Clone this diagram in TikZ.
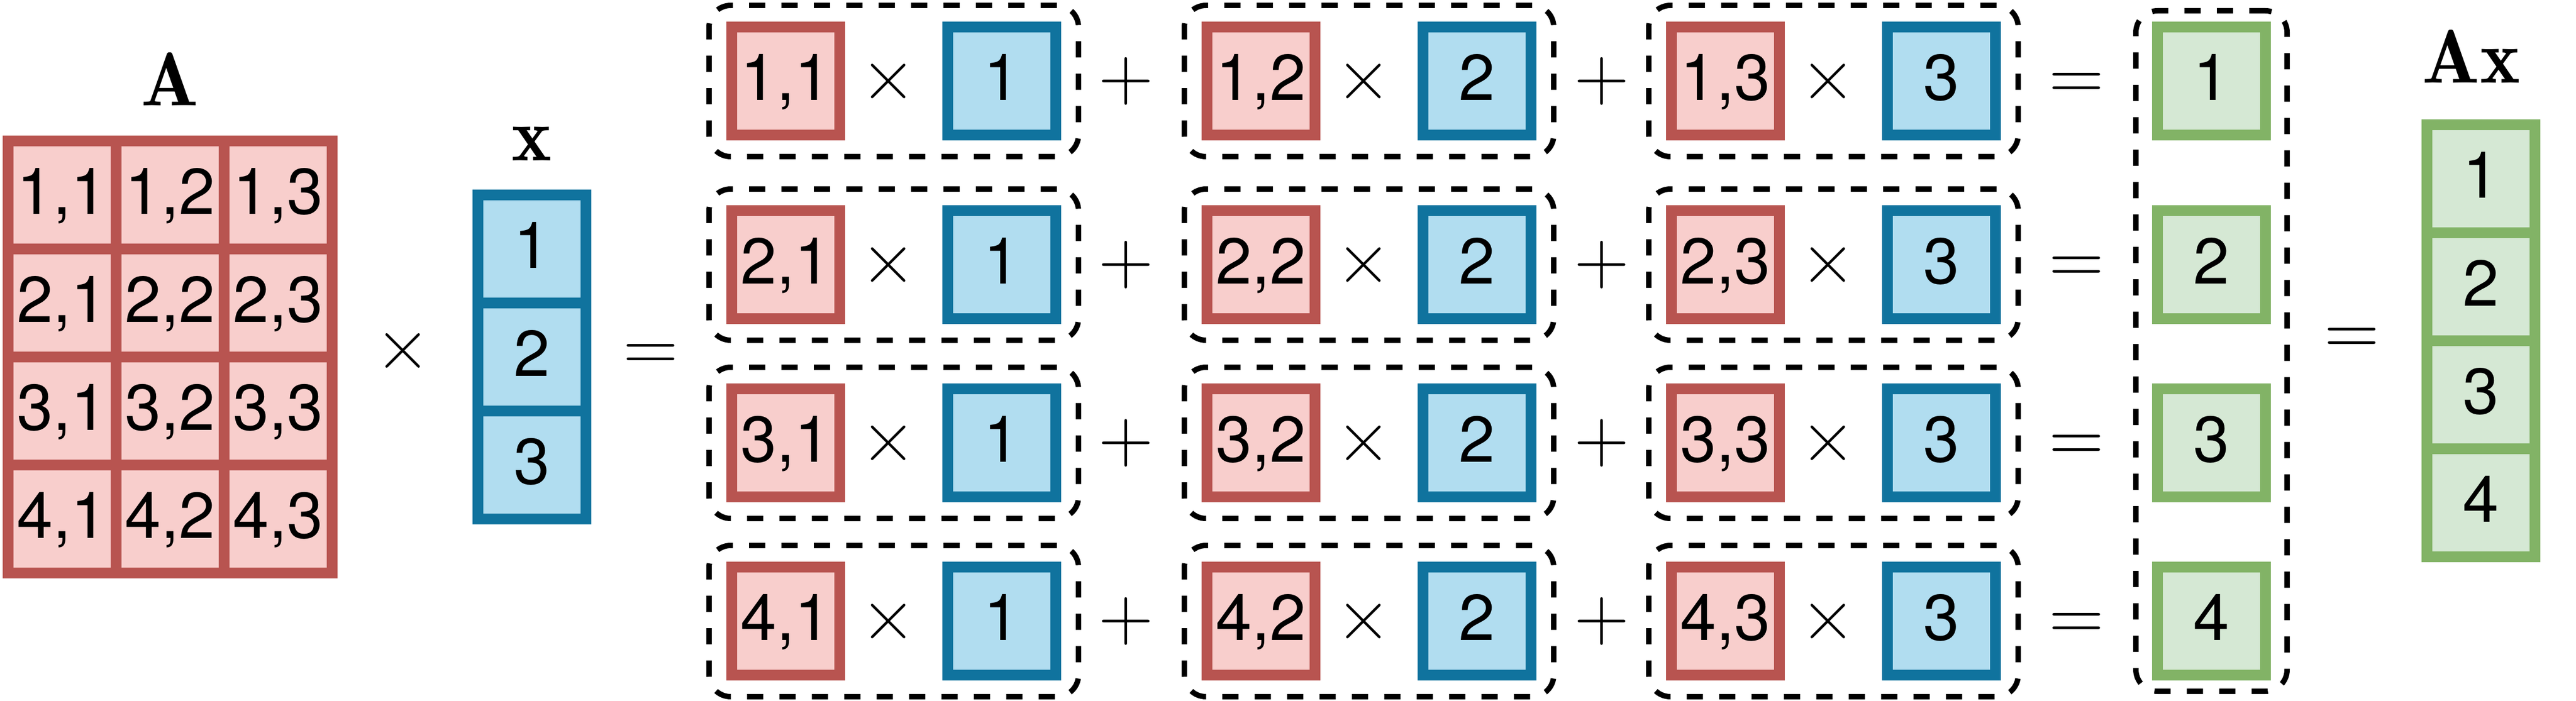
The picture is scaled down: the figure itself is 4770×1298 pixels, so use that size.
\documentclass[tikz,border=0pt]{standalone}
\usepackage{fontspec}
\setsansfont{TeX Gyre Heros}
\usepackage{amsmath}
\usetikzlibrary{positioning,fit}

\definecolor{redStroke}{HTML}{B85450}
\definecolor{redFill}{HTML}{F8CECC}
\definecolor{blueStroke}{HTML}{10739E}
\definecolor{blueFill}{HTML}{B1DDF0}
\definecolor{greenStroke}{HTML}{82B366}
\definecolor{greenFill}{HTML}{D5E8D4}

\begin{document}
\begin{tikzpicture}
  [x=0.1mm,y=-0.1mm,
   cellN/.style={draw,line width=2mm,minimum size=20mm,inner sep=0pt,
     text height=8.5mm,text depth=1.4mm,
     font=\sffamily\fontsize{34.14}{40}\selectfont},
   redN/.style={cellN,draw=redStroke,fill=redFill},
   blueN/.style={cellN,draw=blueStroke,fill=blueFill},
   greenN/.style={cellN,draw=greenStroke,fill=greenFill},
   groupN/.style={draw,line width=1mm,dash pattern=on 3mm off 3mm,
     rounded corners=4mm,inner xsep=3.2mm,inner ysep=3mm},
   opN/.style={inner sep=0pt,font=\rmfamily\fontsize{40}{48}\selectfont,
     text height=30pt,text depth=10pt},
   nameN/.style={inner sep=0pt,font=\fontsize{40}{48}\selectfont}]

  \useasboundingbox (0,0) rectangle (4770,1298);

  % matrix A
  \foreach \r/\y in {1/361,2/561,3/761,4/961}
    \foreach \c/\x in {1/115,2/315,3/515}
      \node[redN] (A\r\c) at (\x,\y) {\r,\c};
  \node[nameN] (nameA) [above=5.5mm of A12.north] {$\mathbf{A}$};

  \node[opN] (times0) at (746,649) {×};

  % vector x
  \foreach \r/\y in {1/461,2/661,3/861}
    \node[blueN] (x\r) at (985,\y) {\r};
  \node[nameN] (namex) [above=5.3mm of x1.north] {$\mathbf{x}$};

  \node[opN] (eq0) at (1205,652) {=};

  % rows of products
  \foreach \r/\y in {1/150,2/490,3/820,4/1150} {
    \foreach \c/\xa/\xt/\xb in {1/1455/1645/1855,2/2335/2525/2735,3/3195/3385/3595} {
      \node[redN] (a\r\c) at (\xa,\y) {\r,\c};
      \node[opN] (t\r\c) at (\xt,\y) {×};
      \node[blueN] (b\r\c) at (\xb,\y) {\c};
      \node[groupN,fit=(a\r\c)(b\r\c)] (g\r\c) {};
    }
    \node[opN] (p\r1) at (2085,\y) {+};
    \node[opN] (p\r2) at (2966,\y) {+};
    \node[opN] (e\r) at (3845,\y) {=};
    \node[greenN] (y\r) at (4095,\y) {\r};
  }
  \node[groupN,inner xsep=3mm,inner ysep=2mm,fit=(y1)(y4)] (gy) {};

  \node[opN] (eq1) at (4355,622) {=};

  % vector Ax
  \foreach \r/\y in {1/331,2/531,3/731,4/931}
    \node[greenN] (Ax\r) at (4594,\y) {\r};
  \node[nameN] (nameAx) [above=6.7mm of Ax1.north,xshift=-1.8mm] {$\mathbf{Ax}$};

\end{tikzpicture}
\end{document}
